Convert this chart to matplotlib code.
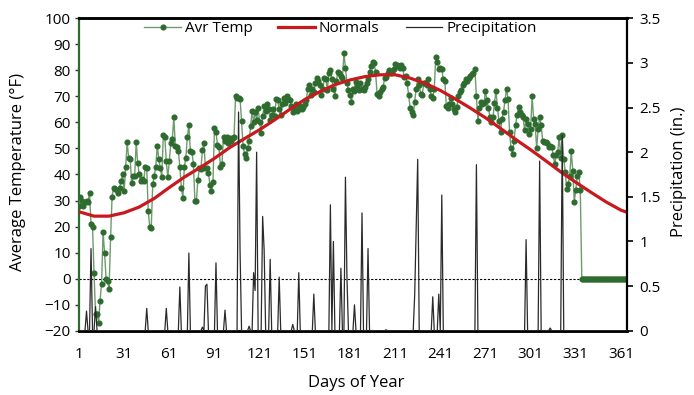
import numpy as np
import matplotlib
matplotlib.use("Agg")
import matplotlib.pyplot as plt
from matplotlib.lines import Line2D
from matplotlib.ticker import FuncFormatter

plt.rcParams['font.family'] = ['Open Sans', 'DejaVu Sans']

# daily average temperature (F) in chunks
temp_d1_24 = [28, 31.5, 30, 28, 29.5, 30, 29.5, 33, 21, 20, 2, -13.5, -13.5, -17, -8.5, -2,
              18, 10, 0, -1, -4, 16, 31.5, 35]
temp_d25_57 = [34.5, 34, 33, 35, 37.5, 40, 33.5, 43, 52.3, 46.5, 46, 36.6, 39.5, 39.5, 52.3,
               44.6, 40, 37.5, 38.2, 37.5, 43, 42.5, 26, 20, 19.5, 36.3, 39.5, 43, 51, 46,
               42.5, 39, 55]
temp_d58_107 = [54.5, 45, 39, 45, 52, 53.5, 62, 51, 50.5, 49,
                43, 35, 31, 43, 46.5, 54.5, 59, 49, 48.7, 44,
                30, 30, 38, 42.5, 42, 49.5, 52, 42.5, 42.5, 40.5,
                36, 33.5, 37, 58, 56.5, 51.3, 50.5, 43, 44, 54.5,
                53, 54.5, 52, 54, 53, 54, 54.5, 70, 69.5, 69.5]
temp_d108_120 = [69, 60.5, 51, 48, 46.5, 50, 53, 58.5, 64.5, 60, 64, 61, 65.5]
temp_d121_176 = [60, 56, 62.5, 66.5, 64.5, 67, 65, 61, 63, 65,
                 62.5, 69, 68.5, 65, 63, 67, 69.5, 67.5, 70, 69,
                 68.5, 66.5, 64, 65, 67, 64.5, 65, 66.5, 65, 66,
                 67, 68.5, 73, 74.5, 70.5, 73, 71.5, 75, 77, 76,
                 74.5, 70.5, 73, 77, 76.5, 72.5, 79, 80, 76.5, 73,
                 70, 76, 79.5, 79, 78, 77]
temp_d177_240 = [86.5, 81, 75, 72.5, 70.5, 68, 73, 72, 75.5, 74,
                 72.5, 75, 73, 72.5, 73.5, 75, 76.5, 79.5, 81.5, 83.3,
                 83, 79.5, 71, 70, 71.5, 73, 73.5, 77, 77.5, 79,
                 80, 79, 79.5, 80.5, 82.5, 82, 81.5, 81, 82, 81,
                 77.5, 78, 75, 70.5, 65.5, 64, 63, 68, 73, 76.5,
                 74.5, 71, 70.5, 75, 75, 74.5, 76.5, 73, 70, 69.5,
                 73, 85, 83.3, 80.5]
temp_d241_295 = [81, 80.5, 76.5, 76, 66.5, 65.5, 67, 69.5, 67, 65,
                 64, 66, 70, 71.5, 72.5, 74.5, 75, 76.5, 76, 77,
                 78, 78.5, 79, 80.5, 70, 60.5, 65.5, 68, 67, 67.5,
                 72, 68.5, 65.5, 62, 60, 62, 67.5, 72, 65.5, 60.5,
                 56.5, 61.5, 64, 68.5, 73, 69, 56.5, 50, 48, 53,
                 59, 63, 66, 64, 63]
temp_d296_334 = [62, 57, 61.5, 59.5, 55.5, 57.5, 70, 61.5, 59.5, 50,
                 57.5, 62, 59, 53, 52.5, 52.5, 52, 50.5, 51, 50.5,
                 47.5, 44, 47.5, 48.5, 54.5, 46.5, 55, 46, 41, 34.5,
                 36.5, 39.5, 49, 41.5, 29.5, 34, 39.5, 41, 34]
# no data after day 334 -> excel draws zeros
temp_d335_365 = [0] * 31

# normals, every 10 days
normal_days = [1, 11, 21, 31, 41, 51, 61, 71, 81, 91, 101, 111, 121, 131, 141, 151, 161, 171,
               181, 191, 201, 211, 221, 231, 241, 251, 261, 271, 281, 291, 301, 311, 321, 331,
               341, 351, 361, 365]
normal_temp = [25.7, 24.0, 24.0, 25.3, 27.5, 30.8, 35.0, 39.0, 42.5, 46.2, 50.3, 53.8, 57.2,
               61.0, 65.0, 68.8, 71.8, 74.5, 76.3, 77.6, 78.3, 78.3, 77.0, 75.0, 72.3, 69.0,
               65.5, 61.8, 57.7, 53.5, 49.5, 45.3, 41.0, 37.0, 33.2, 29.5, 26.3, 25.5]

# precipitation (in.), only days with rain
precip_days = [6, 9, 12, 46, 59, 68, 74, 83, 85, 86, 92, 98, 107, 108, 114, 117, 118, 119,
               123, 124, 128, 134, 143, 147, 157, 168, 170, 175, 178, 179, 184, 189, 193,
               205, 224, 225, 226, 236, 240, 242, 265, 298, 307, 314, 322]
precip_in = [0.22, 0.92, 0.27, 0.25, 0.25, 0.49, 0.87, 0.04, 0.5, 0.52, 0.76, 0.23, 2.45, 0.89,
             0.05, 0.65, 0.45, 2.0, 1.28, 0.9, 0.8, 0.6, 0.07, 0.65, 0.41, 1.41, 1.0, 0.7,
             1.72, 0.6, 0.29, 1.32, 0.92, 0.01, 0.4, 1.15, 1.92, 0.38, 0.41, 1.52, 1.86,
             1.02, 1.9, 0.03, 2.19]

x_ticks = [1, 31, 61, 91, 121, 151, 181, 211, 241, 271, 301, 331, 361]

GREEN = "#2e6b2e"
GREEN_LINE = "#6f9a6f"
RED = "#c8191e"


def main():
  avg_temp = (temp_d1_24 + temp_d25_57 + temp_d58_107 + temp_d108_120 + temp_d121_176
              + temp_d177_240 + temp_d241_295 + temp_d296_334 + temp_d335_365)
  days = np.arange(1, len(avg_temp) + 1)
  precip = np.zeros(len(days))
  for d, p in zip(precip_days, precip_in):
    precip[d - 1] = p

  fig = plt.figure(figsize=(6.94, 3.95), dpi=100)
  ax = fig.add_axes([0.1138, 0.1628, 0.7896, 0.7909])
  ax2 = ax.twinx()

  ax.axhline(0, color="black", lw=0.8, ls=(0, (2, 1.5)), zorder=1)
  ax.plot(days, avg_temp, color=GREEN_LINE, lw=1.0, marker="o", ms=3.4,
          mfc=GREEN, mec=GREEN, zorder=3)
  ax.plot(normal_days, normal_temp, color=RED, lw=2.3, zorder=4)
  ax2.plot(days, precip, color="#2a2a2a", lw=0.9, zorder=5)

  ax.set_xlim(1, 365)
  ax.set_ylim(-20, 100)
  ax.set_yticks(range(-20, 101, 10))
  ax.set_xticks(x_ticks)
  ax2.set_ylim(0, 3.5)
  ax2.set_yticks(np.arange(0, 3.51, 0.5))
  ax2.yaxis.set_major_formatter(FuncFormatter(lambda v, _: f"{v:g}"))

  ax.tick_params(axis="y", direction="out", length=3, width=1, color="#333333",
                 labelsize=11, pad=3)
  ax.tick_params(axis="x", length=0, labelsize=11, pad=12)
  ax2.tick_params(axis="y", direction="out", length=4, width=1.2, labelsize=11, pad=5)

  for a in (ax, ax2):
    a.spines["top"].set_linewidth(1.8)
    a.spines["bottom"].set_linewidth(1.8)
  ax.spines["left"].set_color(GREEN)
  ax.spines["left"].set_linewidth(1.6)
  ax2.spines["left"].set_visible(False)
  ax.spines["right"].set_visible(False)
  ax2.spines["right"].set_linewidth(1.6)

  fig.text(18 / 694, 1 - 172 / 395, "Average Temperature (°F)", rotation=90,
           ha="center", va="center", fontsize=12)
  fig.text(679 / 694, 1 - 172 / 395, "Precipitation (in.)", rotation=90,
           ha="center", va="center", fontsize=12)
  fig.text(356 / 694, 1 - 383 / 395, "Days of Year", ha="center", va="center", fontsize=12)

  handles = [
    Line2D([], [], color=GREEN_LINE, lw=1.0, marker="o", ms=3.4, mfc=GREEN, mec=GREEN),
    Line2D([], [], color=RED, lw=2.3),
    Line2D([], [], color="#2a2a2a", lw=0.9),
  ]
  ax2.legend(handles, ["Avr Temp", "Normals", "Precipitation"], loc="center",
             bbox_to_anchor=(0.477, 0.967), ncol=3, frameon=False, fontsize=11,
             handlelength=2.4, handletextpad=0.25, columnspacing=1.7,
             borderaxespad=0)

  fig.savefig("out.png", dpi=100)


if __name__ == "__main__":
  main()
